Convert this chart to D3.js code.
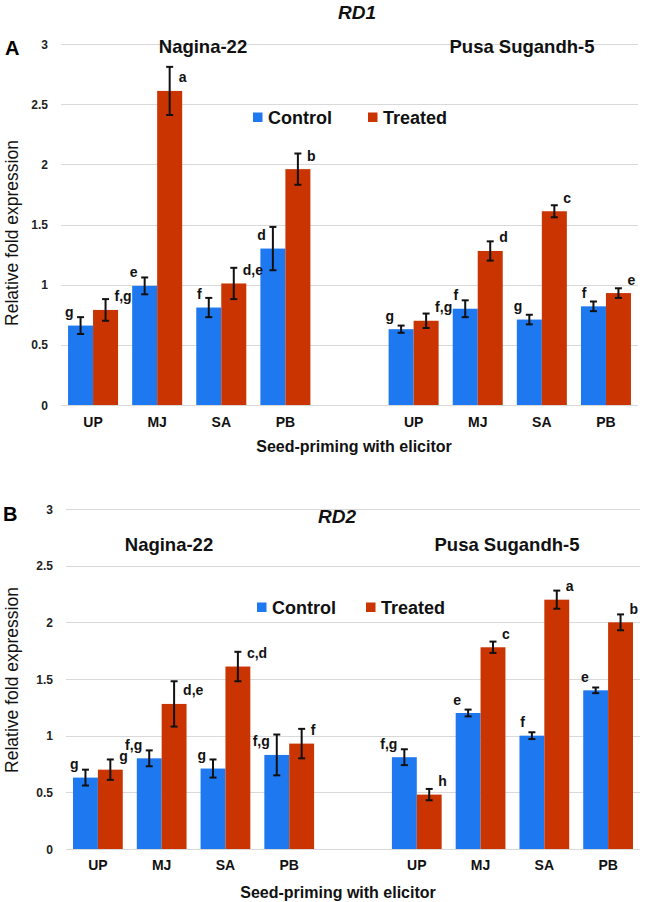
<!DOCTYPE html>
<html>
<head>
<meta charset="utf-8">
<script src="https://cdn.jsdelivr.net/npm/d3@7"></script>
<style>
  html, body { margin: 0; padding: 0; background: #fff; }
  svg { display: block; font-family: "Liberation Sans", Arial, sans-serif; }
</style>
</head>
<body>
<svg id="chart" width="646" height="902"></svg>
<script>
// ---------- data ----------
const categories = ["UP", "MJ", "SA", "PB"];
const cultivars = ["Nagina-22", "Pusa Sugandh-5"];
const series = ["Control", "Treated"];
const yTicks = [0, 0.5, 1, 1.5, 2, 2.5, 3];
const yTickLabels = ["0", "0.5", "1", "1.5", "2", "2.5", "3"];
const xTitle = "Seed-priming with elicitor";
const yTitle = "Relative fold expression";

// RD1 (order: Nagina-22 UP,MJ,SA,PB then Pusa Sugandh-5 UP,MJ,SA,PB)
const rd1Control       = [0.66, 0.99, 0.81, 1.30, 0.63, 0.80, 0.71, 0.82];
const rd1ControlErr    = [0.07, 0.07, 0.08, 0.18, 0.03, 0.07, 0.04, 0.04];
const rd1Treated       = [0.79, 2.61, 1.01, 1.96, 0.70, 1.28, 1.61, 0.93];
const rd1TreatedErr    = [0.09, 0.20, 0.13, 0.13, 0.06, 0.08, 0.05, 0.04];
const rd1ControlLabels = ["g", "e", "f", "d", "g", "f", "g", "f"];
const rd1TreatedLabels = ["f,g", "a", "d,e", "b", "f,g", "d", "c", "e"];

// RD2
const rd2Control       = [0.63, 0.80, 0.71, 0.83, 0.81, 1.20, 1.00, 1.40];
const rd2ControlErr    = [0.07, 0.07, 0.08, 0.18, 0.07, 0.03, 0.03, 0.025];
const rd2Treated       = [0.70, 1.28, 1.61, 0.93, 0.48, 1.78, 2.20, 2.00];
const rd2TreatedErr    = [0.09, 0.20, 0.13, 0.13, 0.05, 0.05, 0.08, 0.07];
const rd2ControlLabels = ["g", "f,g", "g", "f,g", "f,g", "e", "f", "e"];
const rd2TreatedLabels = ["g", "d,e", "c,d", "f", "h", "c", "a", "b"];

// ---------- style ----------
const colors = { Control: "#1E78F0", Treated: "#C93400" };
const gridColor = "#d9d9d9";
const svg = d3.select("#chart");

// slots: 4 groups + 1 blank + 4 groups
const slots = [
  ...categories.map(c => "N-" + c), "gap", ...categories.map(c => "P-" + c)
];
const slotOf = i => (i < 4 ? "N-" + categories[i] : "P-" + categories[i - 4]);

function panel(cfg) {
  const g = svg.append("g");
  const x = d3.scaleBand().domain(slots).range([cfg.x0, cfg.x1])
    .paddingInner(0.22).paddingOuter(0.11);
  const xs = d3.scaleBand().domain(series).range([0, x.bandwidth()]);
  const y = d3.scaleLinear().domain([0, 3]).range([cfg.yBottom, cfg.yTop]);

  // gridlines
  g.append("g").selectAll("line").data(yTicks).join("line")
    .attr("x1", cfg.x0).attr("x2", cfg.x1)
    .attr("y1", d => Math.round(y(d)) + 0.5).attr("y2", d => Math.round(y(d)) + 0.5)
    .attr("stroke", gridColor).attr("stroke-width", 1);

  // y tick labels
  g.append("g").selectAll("text").data(yTicks).join("text")
    .attr("x", cfg.tickRight).attr("y", d => y(d) + 4.5)
    .attr("text-anchor", "end").attr("font-size", 12).attr("font-weight", "bold")
    .attr("fill", "#222")
    .text((d, i) => yTickLabels[i]);

  // bars
  const rows = [];
  for (let i = 0; i < 8; i++) {
    rows.push({ slot: slotOf(i), s: "Control", v: cfg.control[i], e: cfg.controlErr[i], lab: cfg.controlLabels[i] });
    rows.push({ slot: slotOf(i), s: "Treated", v: cfg.treated[i], e: cfg.treatedErr[i], lab: cfg.treatedLabels[i] });
  }
  const cx = d => x(d.slot) + xs(d.s) + xs.bandwidth() / 2;

  g.append("g").selectAll("rect").data(rows).join("rect")
    .attr("x", d => x(d.slot) + xs(d.s))
    .attr("width", xs.bandwidth())
    .attr("y", d => y(d.v))
    .attr("height", d => y(0) - y(d.v))
    .attr("fill", d => colors[d.s]);

  // error bars
  const eb = g.append("g").attr("stroke", "#111").attr("stroke-width", 2);
  rows.forEach(d => {
    const c = cx(d), t = y(d.v + d.e), b = y(d.v - d.e);
    eb.append("line").attr("x1", c).attr("x2", c).attr("y1", t).attr("y2", b);
    eb.append("line").attr("x1", c - 3.5).attr("x2", c + 3.5).attr("y1", t).attr("y2", t);
    eb.append("line").attr("x1", c - 3.5).attr("x2", c + 3.5).attr("y1", b).attr("y2", b);
  });

  // letter labels (placed just above the bar top, beside the error bar)
  g.append("g").selectAll("text").data(rows).join("text")
    .attr("x", d => d.s === "Control" ? cx(d) - 7 : cx(d) + 9)
    .attr("y", d => y(d.v) - 8.5)
    .attr("text-anchor", d => d.s === "Control" ? "end" : "start")
    .attr("font-size", 14).attr("font-weight", "bold").attr("fill", "#111")
    .text(d => d.lab);

  // x category labels
  g.append("g").selectAll("text").data(slots.filter(s => s !== "gap")).join("text")
    .attr("x", d => x(d) + x.bandwidth() / 2)
    .attr("y", cfg.xLabelY)
    .attr("text-anchor", "middle").attr("font-size", 14).attr("font-weight", "bold")
    .attr("fill", "#111")
    .text(d => d.slice(2));

  // x title
  g.append("text").attr("x", cfg.xTitleX).attr("y", cfg.xTitleY)
    .attr("text-anchor", "middle").attr("font-size", 16).attr("font-weight", "bold")
    .attr("fill", "#111").text(xTitle);

  // y title
  g.append("text")
    .attr("transform", `translate(${cfg.yTitleX},${cfg.yTitleY}) rotate(-90)`)
    .attr("text-anchor", "middle").attr("dominant-baseline", "central")
    .attr("font-size", 17.5).attr("fill", "#111").text(yTitle);

  // panel letter
  g.append("text").attr("x", cfg.letterX).attr("y", cfg.letterY)
    .attr("font-size", 20).attr("font-weight", "bold").attr("fill", "#000")
    .text(cfg.letter);

  // gene title
  g.append("text").attr("x", cfg.geneX).attr("y", cfg.geneY)
    .attr("text-anchor", "middle").attr("font-size", 19).attr("font-weight", "bold")
    .attr("font-style", "italic").attr("fill", "#111").text(cfg.gene);

  // cultivar titles
  cultivars.forEach((c, i) => {
    g.append("text").attr("x", cfg.cultX[i]).attr("y", cfg.cultY)
      .attr("text-anchor", "middle").attr("font-size", 18.5).attr("font-weight", "bold")
      .attr("fill", "#111").text(c);
  });

  // legend
  series.forEach((s, i) => {
    g.append("rect").attr("x", cfg.legX[i]).attr("y", cfg.legY - 4.5)
      .attr("width", 9.5).attr("height", 9.5).attr("fill", colors[s]);
    g.append("text").attr("x", cfg.legX[i] + 15).attr("y", cfg.legY + 6.5)
      .attr("font-size", 18).attr("font-weight", "bold").attr("fill", "#111").text(s);
  });
}

panel({
  x0: 61, x1: 638, yTop: 44, yBottom: 405, tickRight: 48,
  control: rd1Control, controlErr: rd1ControlErr, treated: rd1Treated, treatedErr: rd1TreatedErr,
  controlLabels: rd1ControlLabels, treatedLabels: rd1TreatedLabels,
  xLabelY: 427, xTitleX: 354, xTitleY: 452, yTitleX: 12, yTitleY: 233,
  letter: "A", letterX: 5, letterY: 55, gene: "RD1", geneX: 357, geneY: 19,
  cultX: [203, 522], cultY: 53, legX: [253, 368], legY: 117
});

panel({
  x0: 66, x1: 640, yTop: 509, yBottom: 849, tickRight: 53,
  control: rd2Control, controlErr: rd2ControlErr, treated: rd2Treated, treatedErr: rd2TreatedErr,
  controlLabels: rd2ControlLabels, treatedLabels: rd2TreatedLabels,
  xLabelY: 870, xTitleX: 338, xTitleY: 898, yTitleX: 12, yTitleY: 680,
  letter: "B", letterX: 3, letterY: 521, gene: "RD2", geneX: 337, geneY: 523,
  cultX: [169, 507], cultY: 551, legX: [257, 366], legY: 607
});
</script>
</body>
</html>
